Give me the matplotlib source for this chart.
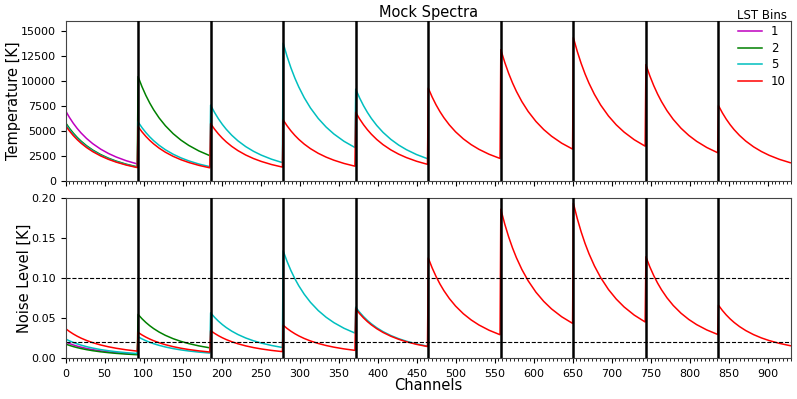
import matplotlib
matplotlib.use("Agg")
import matplotlib.pyplot as plt
from matplotlib.ticker import MultipleLocator, FormatStrFormatter

# channel offsets within each 93-channel band at which values were read
seg_len = 93
n_seg = 10
offsets = [0, 5, 10, 15, 20, 27, 35, 45, 55, 65, 78, 92]

# ---------------- Temperature [K] ----------------
temp_lst1 = [
    [7050, 6372, 5781, 5264, 4810, 4262, 3737, 3199, 2764, 2408, 2033, 1716],
]
temp_lst2 = [
    [5850, 5287, 4797, 4368, 3992, 3536, 3101, 2655, 2293, 1998, 1687, 1424],
    [10450, 9445, 8569, 7803, 7130, 6317, 5539, 4742, 4096, 3569, 3014, 2544],
]
temp_lst5 = [
    [5700, 5152, 4674, 4256, 3889, 3446, 3021, 2587, 2234, 1947, 1644, 1387],
    [5920, 5351, 4854, 4421, 4039, 3579, 3138, 2687, 2321, 2022, 1707, 1441],
    [7600, 6869, 6232, 5675, 5186, 4594, 4028, 3449, 2979, 2595, 2192, 1850],
    [13800, 12472, 11316, 10305, 9416, 8342, 7314, 6262, 5410, 4713, 3980, 3359],
    [9200, 8315, 7544, 6870, 6277, 5561, 4876, 4175, 3606, 3142, 2653, 2239],
]
temp_lst10 = [
    [5550, 5016, 4551, 4144, 3787, 3355, 2942, 2519, 2176, 1895, 1601, 1351],
    [5450, 4926, 4469, 4070, 3719, 3295, 2889, 2473, 2136, 1861, 1572, 1327],
    [5750, 5197, 4715, 4294, 3923, 3476, 3048, 2609, 2254, 1964, 1658, 1400],
    [6120, 5531, 5018, 4570, 4176, 3700, 3244, 2777, 2399, 2090, 1765, 1490],
    [6880, 6218, 5642, 5137, 4694, 4159, 3646, 3122, 2697, 2350, 1984, 1675],
    [9300, 8405, 7626, 6944, 6345, 5622, 4929, 4220, 3646, 3176, 2682, 2264],
    [13150, 11885, 10783, 9819, 8972, 7949, 6970, 5968, 5155, 4491, 3793, 3201],
    [14350, 12970, 11767, 10715, 9791, 8675, 7606, 6512, 5625, 4901, 4139, 3493],
    [11650, 10529, 9553, 8699, 7949, 7042, 6175, 5287, 4567, 3979, 3360, 2836],
    [7550, 6824, 6191, 5638, 5151, 4564, 4002, 3426, 2960, 2578, 2177, 1838],
]

# ---------------- Noise level [K] ----------------
noise_lst1 = [
    [0.0200, 0.01802, 0.01630, 0.01480, 0.01348, 0.01190, 0.01039, 0.00885, 0.00761, 0.00660, 0.00554, 0.00465],
]
noise_lst2 = [
    [0.0175, 0.01577, 0.01426, 0.01295, 0.01180, 0.01041, 0.00909, 0.00774, 0.00666, 0.00577, 0.00485, 0.00407],
    [0.0545, 0.04910, 0.04441, 0.04032, 0.03673, 0.03242, 0.02830, 0.02411, 0.02074, 0.01798, 0.01511, 0.01268],
]
noise_lst5 = [
    [0.0238, 0.02144, 0.01939, 0.01761, 0.01604, 0.01416, 0.01236, 0.01053, 0.00906, 0.00785, 0.00660, 0.00554],
    [0.0265, 0.02387, 0.02159, 0.01960, 0.01786, 0.01576, 0.01376, 0.01172, 0.01008, 0.00874, 0.00735, 0.00616],
    [0.0565, 0.05090, 0.04604, 0.04180, 0.03808, 0.03361, 0.02934, 0.02500, 0.02150, 0.01864, 0.01566, 0.01314],
    [0.1340, 0.12072, 0.10918, 0.09913, 0.09032, 0.07972, 0.06959, 0.05928, 0.05099, 0.04421, 0.03714, 0.03117],
    [0.0635, 0.05721, 0.05174, 0.04698, 0.04280, 0.03778, 0.03298, 0.02809, 0.02416, 0.02095, 0.01760, 0.01477],
]
noise_lst10 = [
    [0.0368, 0.03315, 0.02998, 0.02722, 0.02480, 0.02189, 0.01911, 0.01628, 0.01400, 0.01214, 0.01020, 0.00856],
    [0.0320, 0.02883, 0.02607, 0.02367, 0.02157, 0.01904, 0.01662, 0.01416, 0.01218, 0.01056, 0.00887, 0.00744],
    [0.0342, 0.03081, 0.02787, 0.02530, 0.02305, 0.02035, 0.01776, 0.01513, 0.01301, 0.01128, 0.00948, 0.00795],
    [0.0410, 0.03694, 0.03341, 0.03033, 0.02763, 0.02439, 0.02129, 0.01814, 0.01560, 0.01353, 0.01137, 0.00954],
    [0.0615, 0.05541, 0.05011, 0.04550, 0.04145, 0.03659, 0.03194, 0.02721, 0.02340, 0.02029, 0.01705, 0.01430],
    [0.1250, 0.11261, 0.10185, 0.09248, 0.08425, 0.07436, 0.06491, 0.05530, 0.04756, 0.04124, 0.03465, 0.02908],
    [0.1860, 0.16757, 0.15155, 0.13760, 0.12536, 0.11065, 0.09659, 0.08229, 0.07077, 0.06136, 0.05156, 0.04326],
    [0.1935, 0.17432, 0.15766, 0.14315, 0.13042, 0.11511, 0.10048, 0.08560, 0.07363, 0.06384, 0.05364, 0.04501],
    [0.1265, 0.11396, 0.10307, 0.09358, 0.08526, 0.07525, 0.06569, 0.05596, 0.04813, 0.04173, 0.03507, 0.02942],
    [0.0660, 0.05946, 0.05378, 0.04883, 0.04448, 0.03926, 0.03427, 0.02920, 0.02511, 0.02177, 0.01830, 0.01535],
]

lst_labels = ["1", "2", "5", "10"]
lst_colors = ["m", "g", "c", "r"]
temp_series = [temp_lst1, temp_lst2, temp_lst5, temp_lst10]
noise_series = [noise_lst1, noise_lst2, noise_lst5, noise_lst10]
noise_thresholds = [0.1, 0.02]


def flatten(segments):
    xs, ys = [], []
    for k, seg in enumerate(segments):
        for off, v in zip(offsets, seg):
            xs.append(k * seg_len + off)
            ys.append(v)
    return xs, ys


plt.rcParams["font.family"] = "DejaVu Sans"
fig, (ax1, ax2) = plt.subplots(2, 1, figsize=(7.97, 3.99), dpi=100, sharex=True)
fig.subplots_adjust(left=0.0822, right=0.9925, top=0.947, bottom=0.1028, hspace=0.106)

for segs, lab, col in zip(temp_series, lst_labels, lst_colors):
    xs, ys = flatten(segs)
    ax1.plot(xs, ys, color=col, lw=1.1, label=lab)
for segs, lab, col in zip(noise_series, lst_labels, lst_colors):
    xs, ys = flatten(segs)
    ax2.plot(xs, ys, color=col, lw=1.1, label=lab)

for thr in noise_thresholds:
    ax2.axhline(thr, color="k", ls="--", lw=0.8)

for ax in (ax1, ax2):
    for k in range(1, n_seg):
        ax.axvline(k * seg_len, color="k", lw=1.8, zorder=5)
    ax.set_xlim(0, seg_len * n_seg)
    ax.xaxis.set_major_locator(MultipleLocator(50))
    ax.xaxis.set_minor_locator(MultipleLocator(5))
    ax.tick_params(axis="both", labelsize=8)
    ax.tick_params(axis="x", pad=4.5)
    for sp in ax.spines.values():
        sp.set_color("#444444")

ax1.set_ylim(0, 16000)
ax1.yaxis.set_major_locator(MultipleLocator(2500))
ax2.set_ylim(0, 0.2)
ax2.yaxis.set_major_locator(MultipleLocator(0.05))
ax2.yaxis.set_major_formatter(FormatStrFormatter("%.2f"))

ax1.set_ylabel("Temperature [K]", fontsize=10.5, labelpad=-0.5)
ax2.set_ylabel("Noise Level [K]", fontsize=10.5, labelpad=-0.5)
ax2.set_xlabel("Channels", fontsize=10.5, labelpad=-1)
ax1.set_title("Mock Spectra", fontsize=10.5, pad=3)

ax1.legend(title="LST Bins", loc="upper right", bbox_to_anchor=(1.009, 1.145),
           frameon=False, fontsize=8.5, title_fontsize=8.5,
           handlelength=2.0, labelspacing=0.3)

fig.savefig("out.png", dpi=100)
